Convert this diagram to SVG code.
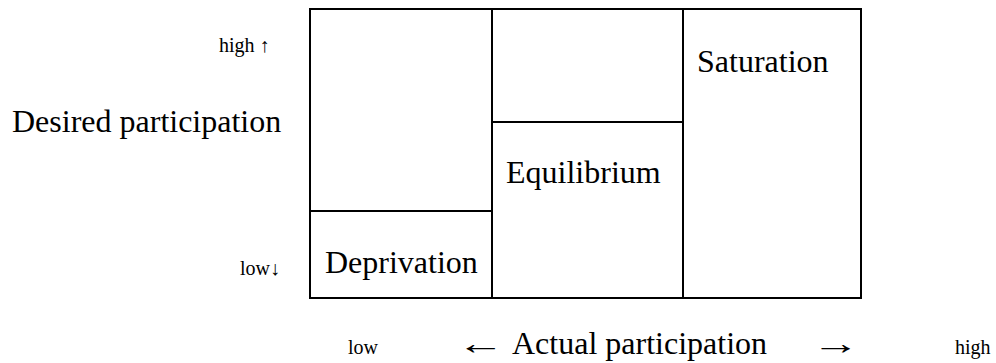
<svg xmlns="http://www.w3.org/2000/svg" width="996" height="363" viewBox="0 0 996 363">
<style>
.ln{stroke:#000;stroke-width:2;fill:none}
.t{font-family:"Liberation Serif","Times New Roman",serif;fill:#000}
.big{font-size:32px}
.sm{font-size:20px}
</style>
<rect width="996" height="363" fill="#fff"/>
<g id="grid">
<rect class="ln" x="310" y="9" width="551" height="289"/>
<line class="ln" x1="492" y1="9" x2="492" y2="298"/>
<line class="ln" x1="683" y1="9" x2="683" y2="298"/>
<line class="ln" x1="310" y1="211" x2="492" y2="211"/>
<line class="ln" x1="492" y1="122" x2="683" y2="122"/>
</g>
<g id="deprivation"><text class="t big" x="325" y="273">Deprivation</text></g>
<g id="equilibrium"><text class="t big" x="506" y="183">Equilibrium</text></g>
<g id="saturation"><text class="t big" x="697" y="72">Saturation</text></g>
<g id="yaxis">
<text class="t big" x="12" y="132">Desired participation</text>
<text class="t sm" x="219" y="52">high ↑</text>
<text class="t sm" x="240" y="275">low↓</text>
</g>
<g id="xaxis">
<text class="t sm" x="348" y="354">low</text>
<text class="t big" transform="translate(457,354) scale(1.5,1)">←</text>
<text class="t big" x="512" y="354">Actual participation</text>
<text class="t big" transform="translate(812,354) scale(1.5,1)">→</text>
<text class="t sm" x="955" y="354">high</text>
</g>
</svg>
